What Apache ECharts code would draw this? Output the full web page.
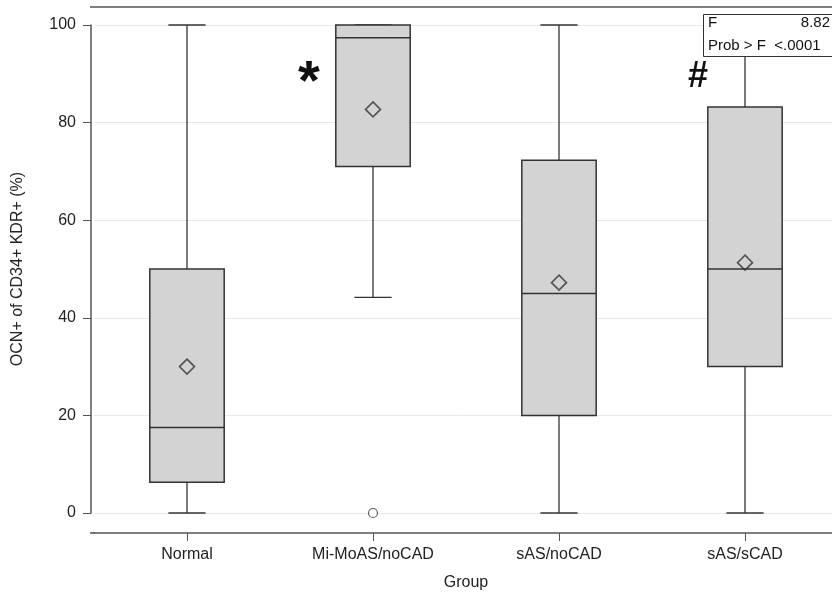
<!DOCTYPE html>
<html><head><meta charset="utf-8">
<script src="https://cdn.jsdelivr.net/npm/echarts@6/dist/echarts.min.js"></script>
<style>html,body{margin:0;padding:0;background:#fff}#c{width:832px;height:593px}</style>
</head><body><div id="c"></div>
<script>
const categories = ['Normal', 'Mi-MoAS/noCAD', 'sAS/noCAD', 'sAS/sCAD'];
const whiskerLow = [0, 44.2, 0, 0];
const q1 = [6.3, 71, 20, 30];
const median = [17.5, 97.4, 45, 50];
const q3 = [50, 100, 72.3, 83.2];
const whiskerHigh = [100, 100, 100, 100];
const means = [30, 82.7, 47.2, 51.3];
const outliers = [[1, 0]];
const yTicks = [0, 20, 40, 60, 80, 100];

const boxData = categories.map((c, i) => [i, whiskerLow[i], q1[i], median[i], q3[i], whiskerHigh[i]]);
const meanData = categories.map((c, i) => [i, means[i]]);
const F = 'Liberation Sans, Arial, sans-serif';
const dark = '#333';

const chart = echarts.init(document.getElementById('c'));
chart.setOption({
  animation: false,
  grid: {left: 94, top: 25, bottom: 80, width: 744, containLabel: false, outerBoundsMode: 'none'},
  xAxis: {
    type: 'category', data: categories, offset: 20,
    name: 'Group', nameLocation: 'middle', nameGap: 42,
    nameTextStyle: {fontFamily: F, fontSize: 16, color: '#222'},
    axisLine: {show: true, onZero: false, lineStyle: {color: '#555', width: 1.5}},
    axisTick: {show: true, alignWithLabel: true, length: 8, lineStyle: {color: '#555', width: 1}},
    axisLabel: {fontFamily: F, fontSize: 16, color: '#222', margin: 14},
    splitLine: {show: false}
  },
  yAxis: {
    type: 'value', min: 0, max: 100, interval: 20, offset: 3,
    name: 'OCN+ of CD34+ KDR+ (%)', nameLocation: 'middle', nameGap: 65, nameRotate: 90,
    nameTextStyle: {fontFamily: F, fontSize: 16, color: '#222'},
    axisLine: {show: true, lineStyle: {color: '#555', width: 1.5}},
    axisTick: {show: true, length: 8, lineStyle: {color: '#555'}},
    axisLabel: {fontFamily: F, fontSize: 16, color: '#222', margin: 15,
      formatter: v => yTicks.includes(v) ? String(v) : ''},
    splitLine: {show: true, lineStyle: {color: '#e8e8e8', width: 1}}
  },
  graphic: [
    {type: 'line', shape: {x1: 90, y1: 7, x2: 832, y2: 7}, style: {stroke: '#555', lineWidth: 1.5}, z: 10},
    {type: 'line', shape: {x1: 90, y1: 533, x2: 95, y2: 533}, style: {stroke: '#555', lineWidth: 1.5}, z: 10},
    {type: 'line', shape: {x1: 91, y1: 513, x2: 94, y2: 513}, style: {stroke: '#e8e8e8', lineWidth: 1}},
    {type: 'rect', shape: {x: 703.5, y: 14.5, width: 140, height: 42}, style: {fill: '#fff', stroke: '#333', lineWidth: 1}, z: 20},
    {type: 'text', x: 708, y: 15, style: {text: 'F', font: '15px ' + F, fill: '#111'}, z: 21},
    {type: 'text', x: 830, y: 15, style: {text: '8.82', font: '15px ' + F, fill: '#111', align: 'right'}, z: 21},
    {type: 'text', x: 708, y: 38, style: {text: 'Prob > F  <.0001', font: '15px ' + F, fill: '#111'}, z: 21},
    {type: 'text', x: 309, y: 84, style: {text: '*', font: 'bold 56px ' + F, fill: '#111', align: 'center', verticalAlign: 'middle'}, z: 21},
    {type: 'text', x: 698, y: 77, style: {text: '#', font: 'bold 36px ' + F, fill: '#111', align: 'center', verticalAlign: 'middle'}, z: 21}
  ],
  series: [
    {
      type: 'custom', data: boxData, z: 2,
      encode: {x: 0, y: [1, 2, 3, 4, 5]},
      renderItem: function (params, api) {
        const i = api.value(0);
        const bw = api.size([1, 0])[0] * 0.4;
        const cap = bw / 2;
        const p = k => api.coord([i, api.value(k)]);
        const lo = p(1), b1 = p(2), md = p(3), b3 = p(4), hi = p(5);
        const cx = lo[0];
        const ls = {stroke: dark, lineWidth: 1.3, fill: null};
        return {type: 'group', children: [
          {type: 'line', shape: {x1: cx, y1: hi[1], x2: cx, y2: b3[1]}, style: ls},
          {type: 'line', shape: {x1: cx, y1: b1[1], x2: cx, y2: lo[1]}, style: ls},
          {type: 'line', shape: {x1: cx - cap / 2, y1: hi[1], x2: cx + cap / 2, y2: hi[1]}, style: ls},
          {type: 'line', shape: {x1: cx - cap / 2, y1: lo[1], x2: cx + cap / 2, y2: lo[1]}, style: ls},
          {type: 'rect', shape: {x: cx - bw / 2, y: b3[1], width: bw, height: b1[1] - b3[1]}, style: {fill: '#d3d3d3', stroke: dark, lineWidth: 1.5}},
          {type: 'line', shape: {x1: cx - bw / 2, y1: md[1], x2: cx + bw / 2, y2: md[1]}, style: {stroke: dark, lineWidth: 1.5}}
        ]};
      }
    },
    {
      type: 'scatter', data: meanData, symbol: 'diamond', symbolSize: [15, 15], z: 5,
      itemStyle: {color: 'rgba(0,0,0,0)', borderColor: dark, borderWidth: 1.6}
    },
    {
      type: 'scatter', data: outliers, symbol: 'circle', symbolSize: 9, z: 5,
      itemStyle: {color: '#fff', borderColor: dark, borderWidth: 1.2}
    }
  ]
});
</script></body></html>
